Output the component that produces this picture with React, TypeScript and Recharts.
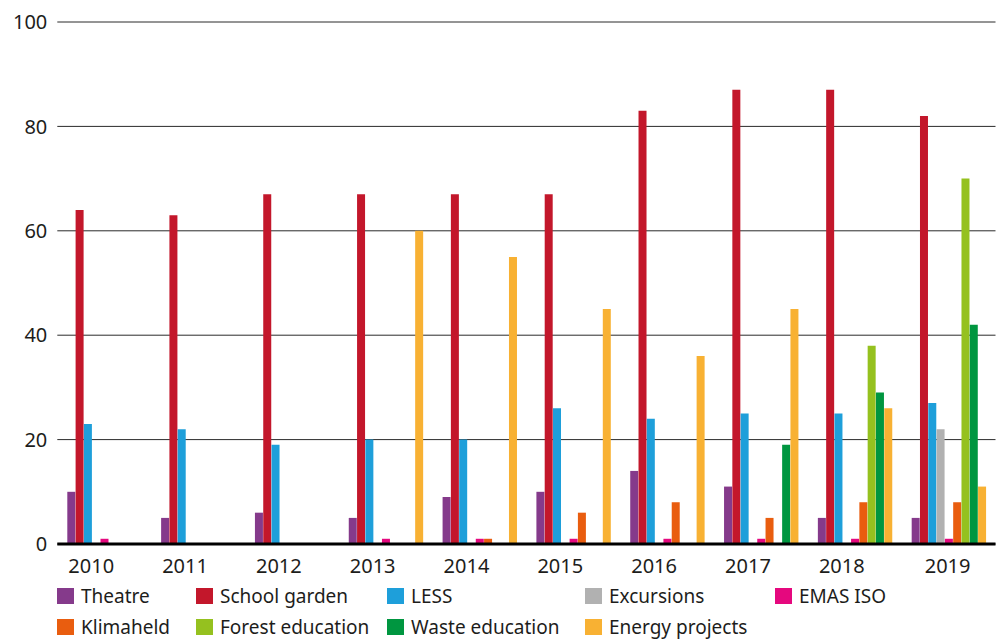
import React from 'react'
import { BarChart, Bar, XAxis, YAxis, CartesianGrid } from 'recharts'

const years = ['2010', '2011', '2012', '2013', '2014', '2015', '2016', '2017', '2018', '2019']
const theatre = [10, 5, 6, 5, 9, 10, 14, 11, 5, 5]
const schoolGarden = [64, 63, 67, 67, 67, 67, 83, 87, 87, 82]
const less = [23, 22, 19, 20, 20, 26, 24, 25, 25, 27]
const excursions = [0, 0, 0, 0, 0, 0, 0, 0, 0, 22]
const emasIso = [1, 0, 0, 1, 1, 1, 1, 1, 1, 1]
const klimaheld = [0, 0, 0, 0, 1, 6, 8, 5, 8, 8]
const forestEducation = [0, 0, 0, 0, 0, 0, 0, 0, 38, 70]
const wasteEducation = [0, 0, 0, 0, 0, 0, 0, 19, 29, 42]
const energyProjects = [0, 0, 0, 60, 55, 45, 36, 45, 26, 11]
const yTicks = [0, 20, 40, 60, 80, 100]

const series = [
  { key: 'theatre', name: 'Theatre', color: '#853A8B', values: theatre },
  { key: 'schoolGarden', name: 'School garden', color: '#C3172B', values: schoolGarden },
  { key: 'less', name: 'LESS', color: '#1E9FDA', values: less },
  { key: 'excursions', name: 'Excursions', color: '#B1B1B1', values: excursions },
  { key: 'emasIso', name: 'EMAS ISO', color: '#E5087E', values: emasIso },
  { key: 'klimaheld', name: 'Klimaheld', color: '#E95D0F', values: klimaheld },
  { key: 'forestEducation', name: 'Forest education', color: '#95C11F', values: forestEducation },
  { key: 'wasteEducation', name: 'Waste education', color: '#009640', values: wasteEducation },
  { key: 'energyProjects', name: 'Energy projects', color: '#F8B133', values: energyProjects },
]

const data = years.map((year, i) => {
  const row: Record<string, string | number> = { year }
  series.forEach(s => { row[s.key] = s.values[i] })
  return row
})

const FONT = '"Noto Sans", sans-serif'
const TEXT = '#1d1d1b'

// labels sit a bit left of the group centre, except the last one
function YearTick(props: any) {
  const { x, y, payload, index } = props
  const shift = index === years.length - 1 ? -1 : -13
  return (
    <text x={x + shift} y={y} dy={21} textAnchor="middle" fontSize={20} fill={TEXT} fontFamily={FONT}>
      {payload.value}
    </text>
  )
}

// legend columns, left edges in px
const legendCols = [57, 196, 387, 585, 775]

function LegendBlock() {
  return (
    <div style={{ position: 'absolute', left: 0, top: 586, width: 997, fontFamily: FONT, fontSize: 19, color: TEXT }}>
      {series.map((s, i) => {
        const row = i < 5 ? 0 : 1
        const col = i < 5 ? i : i - 5
        return (
          <div
            key={s.key}
            style={{ position: 'absolute', left: legendCols[col], top: row * 31, display: 'flex', alignItems: 'center', whiteSpace: 'nowrap', height: 20 }}
          >
            <span style={{ width: 17, height: 16, background: s.color, display: 'inline-block', marginRight: 7 }} />
            <span style={{ lineHeight: '20px' }}>{s.name}</span>
          </div>
        )
      })}
    </div>
  )
}

export default function App() {
  return (
    <div style={{ position: 'fixed', left: 0, top: 0, width: 997, height: 642, background: '#fff' }}>
      <BarChart
        width={997}
        height={642}
        data={data}
        margin={{ top: 22, right: 1.5, left: 0, bottom: 0 }}
        barSize={8}
        barGap={0.3}
      >
        <CartesianGrid vertical={false} stroke="#2a2a2a" strokeWidth={1} />
        <XAxis
          dataKey="year"
          height={98}
          tick={<YearTick />}
          tickLine={false}
          axisLine={{ stroke: '#000', strokeWidth: 3 }}
          interval={0}
        />
        <YAxis
          domain={[0, 100]}
          ticks={yTicks}
          width={57.3}
          axisLine={false}
          tickLine={false}
          tickMargin={4}
          tick={{ fontSize: 20, fill: TEXT, fontFamily: FONT }}
        />
        {series.map(s => (
          <Bar key={s.key} dataKey={s.key} name={s.name} fill={s.color} isAnimationActive={false} />
        ))}
      </BarChart>
      <LegendBlock />
    </div>
  )
}
